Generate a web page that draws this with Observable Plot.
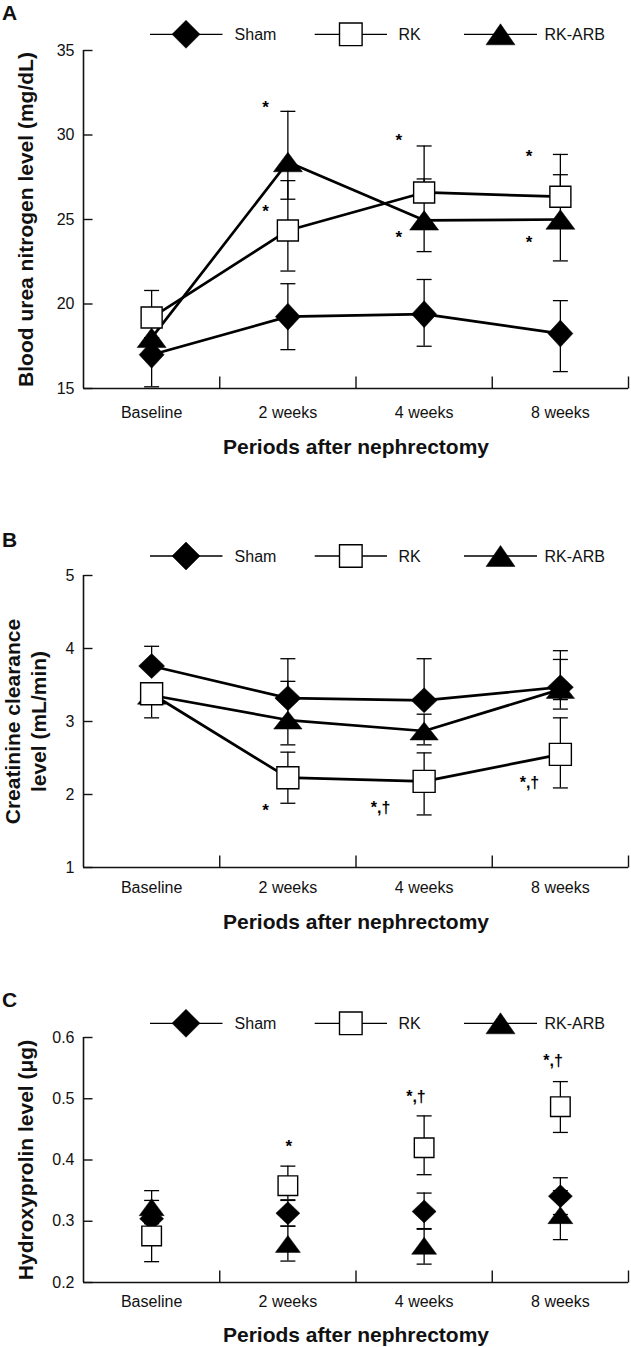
<!DOCTYPE html>
<html><head><meta charset="utf-8">
<script src="https://cdn.jsdelivr.net/npm/d3@7"></script>
<script src="https://cdn.jsdelivr.net/npm/@observablehq/plot@0.6"></script>
<style>
body{margin:0;background:#fff;}
#fig{position:relative;width:631px;height:1347px;background:#fff;overflow:hidden;}
#fig .panel{position:absolute;left:0;}
#overlay{position:absolute;left:0;top:0;}
</style></head><body><div id="fig"></div>
<script>
// ---------- data ----------
const periods = ["Baseline", "2 weeks", "4 weeks", "8 weeks"];
const groups = ["Sham", "RK", "RK-ARB"];
const xTitle = "Periods after nephrectomy";

// Panel A: blood urea nitrogen (mg/dL)
const bunTicks = [15, 20, 25, 30, 35];
const bunSham = [17.0, 19.25, 19.4, 18.25];
const bunShamLo = [15.1, 17.3, 17.5, 16.0];
const bunShamHi = [17.0, 21.2, 21.45, 20.2];
const bunRK = [19.2, 24.35, 26.6, 26.35];
const bunRKLo = [19.2, 21.95, 26.6, 26.35];
const bunRKHi = [20.8, 27.3, 29.35, 28.85];
const bunARB = [18.0, 28.4, 24.95, 25.0];
const bunARBLo = [18.0, 26.2, 23.1, 22.55];
const bunARBHi = [18.0, 31.4, 27.4, 27.65];
const bunStarX = [1.336, 1.336, 2.314, 2.314, 3.271, 3.271];
const bunStarY = [31.85, 25.73, 29.93, 24.15, 28.96, 23.89];
const bunStarText = ["*", "*", "*", "*", "*", "*"];

// Panel B: creatinine clearance (mL/min)
const ccrTicks = [1, 2, 3, 4, 5];
const ccrSham = [3.76, 3.32, 3.29, 3.47];
const ccrShamLo = [3.76, 3.32, 3.29, 3.17];
const ccrShamHi = [4.03, 3.86, 3.86, 3.97];
const ccrRK = [3.38, 2.23, 2.18, 2.55];
const ccrRKLo = [3.05, 1.88, 1.72, 2.09];
const ccrRKHi = [3.38, 2.58, 2.57, 3.05];
const ccrARB = [3.36, 3.02, 2.87, 3.44];
const ccrARBLo = [3.36, 2.68, 2.68, 3.30];
const ccrARBHi = [3.36, 3.55, 3.10, 3.85];
const ccrStarX = [1.336, 2.18, 3.273];
const ccrStarY = [1.84, 1.83, 2.17];
const ccrStarText = ["*", "*,†", "*,†"];

// Panel C: hydroxyprolin (μg)
const hypTicks = [0.2, 0.3, 0.4, 0.5, 0.6];
const hypSham = [0.304, 0.313, 0.316, 0.341];
const hypShamLo = [0.274, 0.292, 0.287, 0.311];
const hypShamHi = [0.334, 0.334, 0.346, 0.371];
const hypRK = [0.276, 0.358, 0.42, 0.487];
const hypRKLo = [0.234, 0.335, 0.376, 0.445];
const hypRKHi = [0.318, 0.39, 0.472, 0.528];
const hypARB = [0.323, 0.263, 0.26, 0.31];
const hypARBLo = [0.296, 0.235, 0.23, 0.27];
const hypARBHi = [0.35, 0.292, 0.288, 0.35];
const hypStarX = [1.507, 2.44, 3.447];
const hypStarY = [0.428, 0.504, 0.564];
const hypStarText = ["*", "*,†", "*,†"];

// ---------- symbols ----------
const diamondSym = (w, h) => ({draw(c){c.moveTo(0,-h);c.lineTo(w,0);c.lineTo(0,h);c.lineTo(-w,0);c.closePath();}});
const squareSym = (s) => ({draw(c){c.moveTo(-s,-s);c.lineTo(s,-s);c.lineTo(s,s);c.lineTo(-s,s);c.closePath();}});
const triSym = (w, h) => ({draw(c){c.moveTo(0,-h/2);c.lineTo(w,h/2);c.lineTo(-w,h/2);c.closePath();}});
const capSym = (w) => ({draw(c){c.moveTo(-w,0);c.lineTo(w,0);}});
const tickUp = (l) => ({draw(c){c.moveTo(0,0);c.lineTo(0,-l);}});
const tickRight = (l) => ({draw(c){c.moveTo(0,0);c.lineTo(l,0);}});

const FONT = '"Liberation Sans", Arial, Helvetica, sans-serif';
const fig = document.getElementById("fig");

function panel(cfg) {
  const rows = [];
  cfg.series.forEach(s => s.v.forEach((v, i) =>
    rows.push({g: s.key, xi: i + 0.5, v, lo: s.lo[i], hi: s.hi[i]})));
  const stars = cfg.starX.map((x, i) => ({x, y: cfg.starY[i], t: cfg.starText[i]}));
  const y0 = cfg.yDomain[0];
  const ink = "#000";
  const sz = cfg.sizes;
  const symOf = {Sham: diamondSym(sz.dw, sz.dh), RK: squareSym(sz.sq), "RK-ARB": triSym(sz.tw, sz.th)};
  const marks = [
    Plot.ruleX([0], {stroke: "#111", strokeWidth: 1.6}),
    Plot.ruleY([y0], {stroke: "#111", strokeWidth: 1.6}),
    Plot.dot(cfg.yTicks, {x: () => 0, y: d => d, symbol: tickRight(9), fill: "none", stroke: "#111", strokeWidth: 1.4}),
    Plot.dot([1, 2, 3, 4], {x: d => d, y: () => y0, symbol: tickUp(12), fill: "none", stroke: "#111", strokeWidth: 1.4}),
    Plot.axisY({ticks: cfg.yTicks, tickSize: 0, tickPadding: 9, tickFormat: cfg.fmt, label: null}),
    Plot.axisX({ticks: [0.5, 1.5, 2.5, 3.5], tickSize: 0, tickPadding: cfg.xPad,
      tickFormat: d => periods[Math.floor(d)], label: null})
  ];
  if (cfg.lines) marks.push(Plot.line(rows, {x: "xi", y: "v", z: "g", stroke: ink, strokeWidth: 2.7}));
  marks.push(Plot.ruleX(rows, {x: "xi", y1: "lo", y2: "hi", stroke: ink, strokeWidth: 1.3}));
  marks.push(Plot.dot(rows, {x: "xi", y: "lo", symbol: capSym(7.5), fill: "none", stroke: ink, strokeWidth: 1.3}));
  marks.push(Plot.dot(rows, {x: "xi", y: "hi", symbol: capSym(7.5), fill: "none", stroke: ink, strokeWidth: 1.3}));
  ["RK-ARB", "Sham", "RK"].forEach(k => {
    marks.push(Plot.dot(rows.filter(r => r.g === k), {x: "xi", y: "v", symbol: symOf[k],
      fill: k === "RK" ? "#fff" : ink, stroke: ink, strokeWidth: k === "RK" ? 1.4 : 0.5}));
  });
  marks.push(Plot.text(stars.filter(s => s.t === "*"), {x: "x", y: "y", text: "t", fontSize: 17, fontWeight: "bold", dy: 4, fill: ink}));
  marks.push(Plot.text(stars.filter(s => s.t !== "*"), {x: "x", y: "y", text: "t", fontSize: 16, fontWeight: "bold", dy: 1, fill: ink}));
  marks.push(Plot.text([cfg.yTitle], {text: d => d, frameAnchor: "left", dx: -59, rotate: -90,
    textAnchor: "middle", lineAnchor: "middle",
    fontSize: 21, fontWeight: "bold", lineHeight: 1.24, fill: "#111"}));
  marks.push(Plot.text([xTitle], {text: d => d, frameAnchor: "bottom", dy: cfg.xTitleDy,
    textAnchor: "middle", lineAnchor: "middle",
    fontSize: 21, fontWeight: "bold", fill: "#111"}));

  const svg = Plot.plot({
    width: 631,
    height: cfg.marginTop + cfg.frameH + cfg.marginBottom,
    marginLeft: 83, marginRight: 3,
    marginTop: cfg.marginTop, marginBottom: cfg.marginBottom,
    x: {domain: [0, 4]},
    y: {domain: cfg.yDomain},
    style: {fontFamily: FONT, fontSize: "16px", color: "#111", background: "transparent", overflow: "visible"},
    marks
  });
  svg.classList.add("panel");
  svg.style.top = cfg.top + "px";
  fig.appendChild(svg);
}

panel({
  top: 0, marginTop: 50, frameH: 338, marginBottom: 72,
  yDomain: [15, 35], yTicks: bunTicks, fmt: d => String(d), xPad: 18, xTitleDy: 59, lines: true,
  yTitle: "Blood urea nitrogen level (mg/dL)",
  series: [
    {key: "Sham", v: bunSham, lo: bunShamLo, hi: bunShamHi},
    {key: "RK", v: bunRK, lo: bunRKLo, hi: bunRKHi},
    {key: "RK-ARB", v: bunARB, lo: bunARBLo, hi: bunARBHi}
  ],
  starX: bunStarX, starY: bunStarY, starText: bunStarText,
  sizes: {dw: 12.5, dh: 13.5, sq: 10.5, tw: 14.5, th: 19.5}
});
panel({
  top: 460, marginTop: 115, frameH: 292, marginBottom: 73,
  yDomain: [1, 5], yTicks: ccrTicks, fmt: d => String(d), xPad: 14.5, xTitleDy: 55, lines: true,
  yTitle: "Creatinine clearance\nlevel (mL/min)",
  series: [
    {key: "Sham", v: ccrSham, lo: ccrShamLo, hi: ccrShamHi},
    {key: "RK", v: ccrRK, lo: ccrRKLo, hi: ccrRKHi},
    {key: "RK-ARB", v: ccrARB, lo: ccrARBLo, hi: ccrARBHi}
  ],
  starX: ccrStarX, starY: ccrStarY, starText: ccrStarText,
  sizes: {dw: 13, dh: 12.5, sq: 11, tw: 14.2, th: 18}
});
panel({
  top: 940, marginTop: 97, frameH: 245, marginBottom: 65,
  yDomain: [0.2, 0.6], yTicks: hypTicks, fmt: d => d.toFixed(1), xPad: 13.5, xTitleDy: 53, lines: false,
  yTitle: "Hydroxyprolin level (μg)",
  series: [
    {key: "Sham", v: hypSham, lo: hypShamLo, hi: hypShamHi},
    {key: "RK", v: hypRK, lo: hypRKLo, hi: hypRKHi},
    {key: "RK-ARB", v: hypARB, lo: hypARBLo, hi: hypARBHi}
  ],
  starX: hypStarX, starY: hypStarY, starText: hypStarText,
  sizes: {dw: 12, dh: 11.5, sq: 9.8, tw: 12.5, th: 17}
});

// ---------- legends and panel letters (overlay) ----------
const ov = d3.select(fig).append("svg").attr("id", "overlay")
  .attr("width", 631).attr("height", 1347)
  .style("font-family", FONT);
const legendYs = [34.3, 556, 1023.3];
const letters = [{t: "A", y: 20}, {t: "B", y: 546.7}, {t: "C", y: 1007}];
letters.forEach(l => ov.append("text").attr("x", 2).attr("y", l.y).attr("font-size", 21)
  .attr("font-weight", "bold").attr("fill", "#111").text(l.t));
const legItems = [
  {name: groups[0], x1: 150, x2: 222.5, mx: 186, tx: 234.6, sym: diamondSym(14, 14), fill: "#000"},
  {name: groups[1], x1: 314.7, x2: 387, mx: 350.8, tx: 398.4, sym: squareSym(11.3), fill: "#fff"},
  {name: groups[2], x1: 464, x2: 537, mx: 500.5, tx: 544.5, sym: triSym(14.5, 21), fill: "#000"}
];
legendYs.forEach(y => {
  legItems.forEach(it => {
    ov.append("line").attr("x1", it.x1).attr("x2", it.x2).attr("y1", y).attr("y2", y)
      .attr("stroke", "#000").attr("stroke-width", 1.3);
    ov.append("path").attr("d", d3.symbol(it.sym)())
      .attr("transform", `translate(${it.mx},${y})`)
      .attr("fill", it.fill).attr("stroke", "#000").attr("stroke-width", it.fill === "#fff" ? 1.4 : 0.5);
    ov.append("text").attr("x", it.tx).attr("y", y + 5.8).attr("font-size", 16)
      .attr("fill", "#111").text(it.name);
  });
});
</script></body></html>
